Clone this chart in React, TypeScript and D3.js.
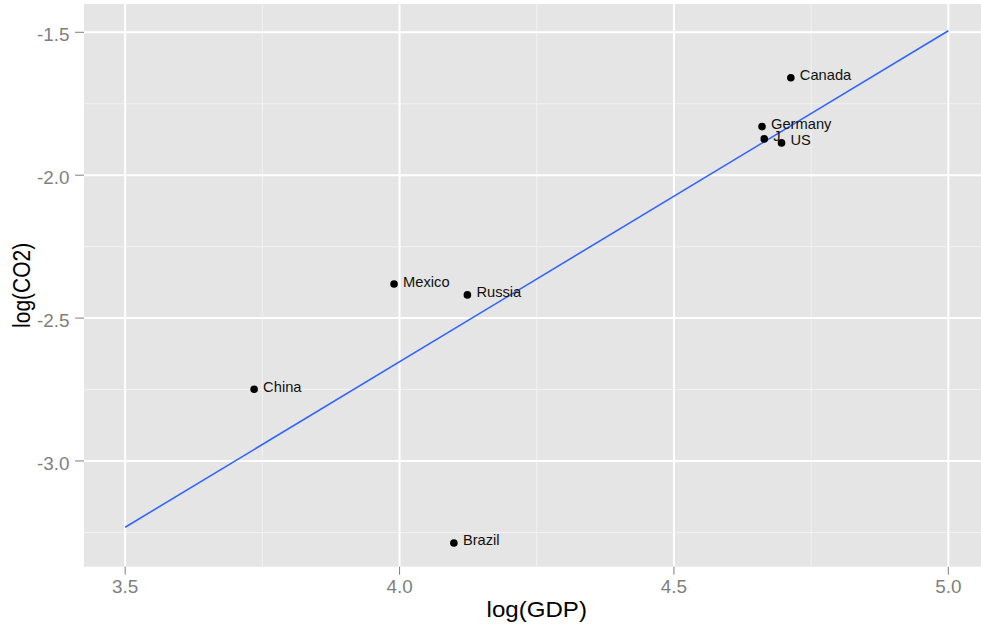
import React from "react";
import * as d3 from "d3";

const countries = ["Canada", "Germany", "J", "US", "Mexico", "Russia", "China", "Brazil"];
const logGDP = [4.713, 4.6605, 4.6645, 4.696, 3.99, 4.1236, 3.735, 4.099];
const logCO2 = [-1.659, -1.83, -1.873, -1.887, -2.381, -2.419, -2.749, -3.287];

const fitX = [3.5, 5.0];
const fitY = [-3.232, -1.4944];

const xTicks = [3.5, 4.0, 4.5, 5.0];
const yTicks = [-1.5, -2.0, -2.5, -3.0];
const xMinor = [3.75, 4.25, 4.75];
const yMinor = [-1.75, -2.25, -2.75, -3.25];

const W = 981;
const H = 627;
const panel = { left: 84, right: 989.5, top: 4, bottom: 566.7 };

export default function App() {
  const x = d3.scaleLinear().domain([3.425, 5.075]).range([panel.left, panel.right]);
  const y = d3.scaleLinear().domain([-3.37, -1.401]).range([panel.bottom, panel.top]);
  const line = d3
    .line<number>()
    .x((_, i) => x(fitX[i]))
    .y((d) => y(d));
  const font = "'Liberation Sans', Arial, Helvetica, sans-serif";
  const fmt = (v: number) => d3.format(".1f")(v).replace("\u2212", "-");

  return (
    <svg
      width={W}
      height={H}
      style={{ position: "absolute", left: 0, top: 0, background: "#fff" }}
      fontFamily={font}
    >
      <rect
        x={panel.left}
        y={panel.top}
        width={panel.right - panel.left}
        height={panel.bottom - panel.top}
        fill="#E5E5E5"
      />
      {xMinor.map((v) => (
        <line key={"xm" + v} x1={x(v)} x2={x(v)} y1={panel.top} y2={panel.bottom} stroke="#F2F2F2" strokeWidth={1} />
      ))}
      {yMinor.map((v) => (
        <line key={"ym" + v} x1={panel.left} x2={panel.right} y1={y(v)} y2={y(v)} stroke="#F2F2F2" strokeWidth={1} />
      ))}
      {xTicks.map((v) => (
        <line key={"xg" + v} x1={x(v)} x2={x(v)} y1={panel.top} y2={panel.bottom} stroke="#FFFFFF" strokeWidth={2} />
      ))}
      {yTicks.map((v) => (
        <line key={"yg" + v} x1={panel.left} x2={panel.right} y1={y(v)} y2={y(v)} stroke="#FFFFFF" strokeWidth={2} />
      ))}
      <path d={line(fitY) || ""} fill="none" stroke="#3366FF" strokeWidth={1.6} />
      {countries.map((c, i) => (
        <g key={c}>
          <circle cx={x(logGDP[i])} cy={y(logCO2[i])} r={3.8} fill="#000" />
          <text
            transform={`translate(${x(logGDP[i]) + 9},${y(logCO2[i]) + 2.5}) scale(1.05,1)`}
            fontSize={14}
            fill="#111"
          >
            {c}
          </text>
        </g>
      ))}
      {/* y axis */}
      {yTicks.map((v) => (
        <g key={"yt" + v}>
          <line x1={panel.left - 9} x2={panel.left} y1={y(v)} y2={y(v)} stroke="#7F7F7F" strokeWidth={1} />
          <text
            transform={`translate(${panel.left - 14.5},${y(v) + 8.7}) scale(1.05,1)`}
            textAnchor="end"
            fontSize={18}
            fill="#7F7F7F"
          >
            {fmt(v)}
          </text>
        </g>
      ))}
      {/* x axis */}
      {xTicks.map((v) => (
        <g key={"xt" + v}>
          <line x1={x(v)} x2={x(v)} y1={panel.bottom} y2={panel.bottom + 8} stroke="#7F7F7F" strokeWidth={1} />
          <text
            transform={`translate(${x(v)},${panel.bottom + 26.5}) scale(1.05,1)`}
            textAnchor="middle"
            fontSize={18}
            fill="#7F7F7F"
          >
            {fmt(v)}
          </text>
        </g>
      ))}
      <text
        transform={`translate(${(panel.left + panel.right) / 2},617) scale(1.12,1)`}
        textAnchor="middle"
        fontSize={21.5}
        fill="#000"
      >
        log(GDP)
      </text>
      <text
        transform={`translate(29.5,${(panel.top + panel.bottom) / 2}) scale(1.12,1) rotate(-90)`}
        textAnchor="middle"
        fontSize={21}
        fill="#000"
      >
        log(CO2)
      </text>
    </svg>
  );
}
